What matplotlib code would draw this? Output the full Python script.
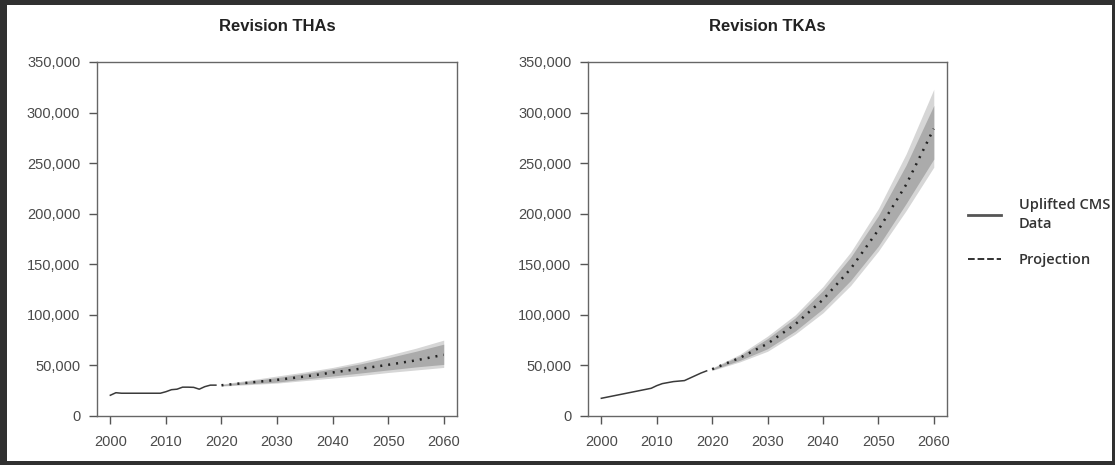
import matplotlib
matplotlib.use('Agg')
import matplotlib.pyplot as plt
from matplotlib.patches import Rectangle
from matplotlib.lines import Line2D
from matplotlib.ticker import FuncFormatter

plt.rcParams['font.family'] = ['Liberation Sans', 'DejaVu Sans']

# historical (uplifted CMS data)
hist_years = list(range(2000, 2020))
tha_hist = [20500, 23000, 22500, 22500, 22500, 22500, 22500, 22500, 22500, 22500,
            24000, 26000, 26500, 28500, 28500, 28300, 26500, 29000, 30500, 30500]
tka_hist = [17500, 18600, 19700, 20800, 21900, 23000, 24100, 25200, 26300, 27400,
            30000, 32000, 33000, 34000, 34500, 35000, 37500, 40000, 42500, 44600]

# projection with uncertainty bands
proj_years = [2020, 2025, 2030, 2035, 2040, 2045, 2050, 2055, 2060]
tha_proj = [30400, 33000, 35700, 39000, 43000, 46700, 50600, 55000, 60500]
tha_outer_lo = [29500, 31000, 32500, 35000, 37500, 40000, 43000, 45500, 48000]
tha_outer_hi = [31500, 35500, 39500, 43500, 48000, 53500, 60000, 67000, 75000]
tha_inner_lo = [30000, 31800, 33500, 36500, 39500, 42500, 45500, 48500, 51000]
tha_inner_hi = [31000, 34500, 38000, 42000, 46500, 51500, 57500, 64000, 71000]

tka_proj = [46300, 57500, 71500, 90700, 115000, 145500, 184000, 228600, 284000]
tka_outer_lo = [45000, 53500, 64000, 81000, 102000, 129000, 163000, 203000, 246000]
tka_outer_hi = [47500, 61000, 79000, 100000, 128000, 162000, 205000, 259000, 323000]
tka_inner_lo = [45500, 55000, 66500, 84000, 106000, 134000, 168000, 210000, 254000]
tka_inner_hi = [47000, 59500, 76500, 97000, 124000, 157000, 198000, 248000, 307000]

titles = ['Revision THAs', 'Revision TKAs']
x_ticks = [2000, 2010, 2020, 2030, 2040, 2050, 2060]
y_ticks = [0, 50000, 100000, 150000, 200000, 250000, 300000, 350000]

fig = plt.figure(figsize=(11.15, 4.65), dpi=100)
ax1 = fig.add_axes([0.0870, 0.1054, 0.3229, 0.7613])
ax2 = fig.add_axes([0.5274, 0.1054, 0.3220, 0.7613])

panels = [
    (ax1, tha_hist, tha_proj, tha_outer_lo, tha_outer_hi, tha_inner_lo, tha_inner_hi),
    (ax2, tka_hist, tka_proj, tka_outer_lo, tka_outer_hi, tka_inner_lo, tka_inner_hi),
]

for (ax, hist, proj, olo, ohi, ilo, ihi), title in zip(panels, titles):
    ax.fill_between(proj_years, olo, ohi, color='#d6d6d6', lw=0)
    ax.fill_between(proj_years, ilo, ihi, color='#ababab', lw=0)
    ax.plot(hist_years, hist, color='#3a3a3a', lw=1.1)
    ax.plot(proj_years, proj, color='#222222', lw=1.8, linestyle=(0, (0.8, 2.4)))
    ax.set_xlim(1997.6, 2062.4)
    ax.set_ylim(0, 350000)
    ax.set_xticks(x_ticks)
    ax.set_yticks(y_ticks)
    ax.yaxis.set_major_formatter(FuncFormatter(lambda v, p: f'{int(v):,}'))
    ax.tick_params(axis='both', direction='out', length=6, width=1, color='#555555',
                   labelsize=10.5, labelcolor='#4a4a4a')
    ax.tick_params(axis='y', pad=6)
    ax.tick_params(axis='x', pad=8)
    for s in ax.spines.values():
        s.set_color('#666666')
        s.set_linewidth(1)
    ax.set_title(title, fontsize=12, fontweight='bold', color='#222222', pad=22)

handles = [Line2D([], [], color='#555555', lw=2),
           Line2D([], [], color='#222222', lw=1.3, linestyle='--')]
leg = fig.legend(handles, ['Uplifted CMS\nData', 'Projection'], loc='center left',
                 bbox_to_anchor=(0.856, 0.50), frameon=False, handlelength=2.3,
                 handletextpad=1.2, labelspacing=1.5,
                 prop={'family': 'Open Sans', 'weight': 'semibold', 'size': 10.5})
for t in leg.get_texts():
    t.set_linespacing(1.4)
    t.set_color('#333333')

# dark frame around the picture
frame = '#303030'
fig.add_artist(Rectangle((0, 0), 7 / 1115, 1, transform=fig.transFigure, color=frame, lw=0))
fig.add_artist(Rectangle((0, 1 - 5 / 465), 1, 5 / 465, transform=fig.transFigure, color=frame, lw=0))
fig.add_artist(Rectangle((0, 0), 1, 4 / 465, transform=fig.transFigure, color=frame, lw=0))
fig.add_artist(Rectangle((1 - 3 / 1115, 0), 3 / 1115, 1, transform=fig.transFigure, color=frame, lw=0))

fig.savefig('out.png', dpi=100)
